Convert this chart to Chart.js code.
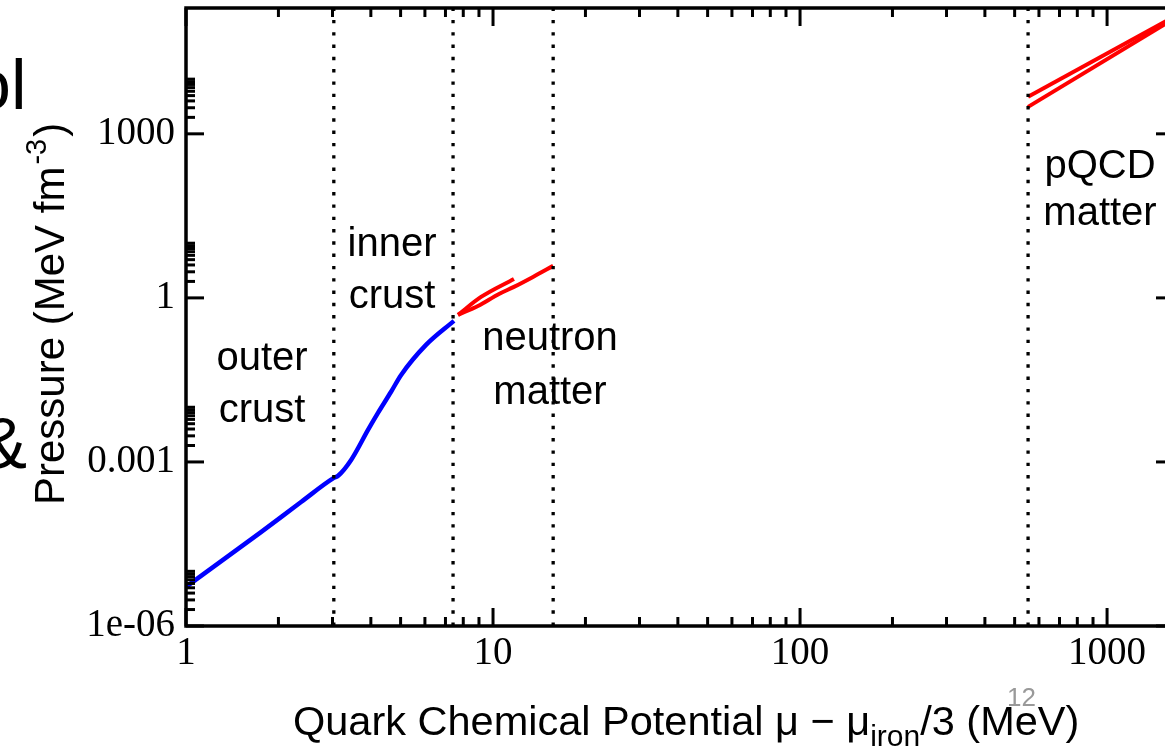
<!DOCTYPE html>
<html>
<head>
<meta charset="utf-8">
<script src="https://cdn.jsdelivr.net/npm/chart.js@4.4.1/dist/chart.umd.min.js"></script>
<style>
  html, body { margin: 0; padding: 0; background: #fff; overflow: hidden; width: 1165px; height: 752px; }
  #wrap { position: absolute; left: 0; top: 0; width: 1180px; height: 752px; }
</style>
</head>
<body>
<div id="wrap"><canvas id="c" width="1180" height="752"></canvas></div>
<script>
// ---- data ----
const crustX = [1, 1.755, 2.37, 3.03, 3.13, 3.45, 3.92, 4.22, 4.65, 5.02, 6.05, 7.46];
const crustY = [5.2e-6, 5.2e-5, 1.85e-4, 5.1e-4, 5.6e-4, 1.09e-3, 3.9e-3, 7.9e-3, 1.9e-2, 3.9e-2, 0.138, 0.38];

const neutronAX = [7.69, 9.14, 11.7];
const neutronAY = [0.49, 1.04, 2.22];
const neutronBX = [7.69, 8.93, 10.46, 11.7, 13.5, 15.7];
const neutronBY = [0.49, 0.71, 1.18, 1.59, 2.42, 3.85];

const pqcdAX = [553, 1652];
const pqcdAY = [4742, 1.38e5];
const pqcdBX = [553, 1652];
const pqcdBY = [3112, 1.27e5];

const boundaries = [3.03, 7.41, 15.7, 553];

const xTickValues = [1, 10, 100, 1000];
const xTickLabels = ['1', '10', '100', '1000'];
const yTickValues = [1e-6, 1e-3, 1, 1000];
const yTickLabels = ['1e-06', '0.001', '1', '1000'];

const regionLabels = [
  ['outer', 'crust'],
  ['inner', 'crust'],
  ['neutron', 'matter'],
  ['pQCD', 'matter']
];
const xTitleParts = ['Quark Chemical Potential \u03bc \u2212 \u03bc', 'iron', '/3 (MeV)'];
const yTitleParts = ['Pressure (MeV fm', '-3', ')'];

// ---- helpers ----
const zip = (xs, ys) => xs.map((v, i) => ({ x: v, y: ys[i] }));
const X_MIN = 1, X_MAX = 1652, Y_MIN = 1e-6, Y_MAX = 2e5;

const datasets = [];
boundaries.forEach(b => datasets.push({
  data: [{ x: b, y: Y_MIN }, { x: b, y: Y_MAX }],
  borderColor: '#000', borderWidth: 3.3, borderDash: [3.4, 8.9], pointRadius: 0, fill: false
}));
datasets.push({ data: zip(crustX, crustY), borderColor: '#0000ff', borderWidth: 4.5, pointRadius: 0, cubicInterpolationMode: 'monotone', fill: false });
datasets.push({ data: zip(neutronAX, neutronAY), borderColor: '#ff0000', borderWidth: 4, pointRadius: 0, cubicInterpolationMode: 'monotone', fill: false });
datasets.push({ data: zip(neutronBX, neutronBY), borderColor: '#ff0000', borderWidth: 4, pointRadius: 0, cubicInterpolationMode: 'monotone', fill: false });
datasets.push({ data: zip(pqcdAX, pqcdAY), borderColor: '#ff0000', borderWidth: 4, pointRadius: 0, fill: false });
datasets.push({ data: zip(pqcdBX, pqcdBY), borderColor: '#ff0000', borderWidth: 4, pointRadius: 0, fill: false });

const frameTicks = {
  id: 'frameTicks',
  afterDatasetsDraw(chart) {
    const { ctx, chartArea: a, scales: { x, y } } = chart;
    ctx.save();
    ctx.strokeStyle = '#000';
    ctx.lineWidth = 3;
    ctx.lineCap = 'butt';
    const seg = (x1, y1, x2, y2) => { ctx.beginPath(); ctx.moveTo(x1, y1); ctx.lineTo(x2, y2); ctx.stroke(); };
    const MAJ = 18, MIN = 9;
    xTickValues.forEach(v => {
      for (let k = 1; k <= 9; k++) {
        const val = v * k;
        if (val < X_MIN || val > X_MAX) continue;
        const px = x.getPixelForValue(val);
        const len = k === 1 ? MAJ : MIN;
        seg(px, a.bottom, px, a.bottom - len);
        seg(px, a.top, px, a.top + len);
      }
    });
    yTickValues.forEach(v => {
      for (let k = 1; k <= 10; k++) {
        const val = v * k;
        if (val < Y_MIN || val > Y_MAX) continue;
        const py = y.getPixelForValue(val);
        const len = k === 1 ? MAJ : MIN;
        seg(a.left, py, a.left + len, py);
        seg(a.right, py, a.right - len, py);
      }
    });
    ctx.lineWidth = 3.5;
    ctx.strokeRect(a.left, a.top, a.right - a.left, a.bottom - a.top);
    ctx.restore();
  },
  afterDraw(chart) {
    const { ctx } = chart;
    ctx.save();
    ctx.fillStyle = '#000';
    ctx.textBaseline = 'alphabetic';
    ctx.font = '40px "Liberation Sans", Arial, sans-serif';
    ctx.textAlign = 'center';
    const pos = [[262, 370, 422], [392, 256, 308], [550, 350, 404], [1100, 178, 225]];
    regionLabels.forEach((lines, i) => {
      ctx.fillText(lines[0], pos[i][0], pos[i][1]);
      ctx.fillText(lines[1], pos[i][0], pos[i][2]);
    });
    // x title
    ctx.textAlign = 'left';
    let cx = 293; const by = 735;
    ctx.font = '41.5px "Liberation Sans", Arial, sans-serif';
    ctx.fillText(xTitleParts[0], cx, by); cx += ctx.measureText(xTitleParts[0]).width;
    ctx.font = '30px "Liberation Sans", Arial, sans-serif';
    ctx.fillText(xTitleParts[1], cx, by + 11); cx += ctx.measureText(xTitleParts[1]).width;
    ctx.font = '41.5px "Liberation Sans", Arial, sans-serif';
    ctx.fillText(xTitleParts[2], cx, by);
    // y title (rotated)
    ctx.save();
    ctx.translate(64, 505);
    ctx.rotate(-Math.PI / 2);
    let cy = 0;
    ctx.font = '42px "Liberation Sans", Arial, sans-serif';
    ctx.fillText(yTitleParts[0], cy, 0); cy += ctx.measureText(yTitleParts[0]).width;
    ctx.font = '29px "Liberation Sans", Arial, sans-serif';
    ctx.fillText(yTitleParts[1], cy + 2, -18); cy += ctx.measureText(yTitleParts[1]).width + 4;
    ctx.font = '42px "Liberation Sans", Arial, sans-serif';
    ctx.fillText(yTitleParts[2], cy, 0);
    ctx.restore();
    // slide fragments around the figure
    ctx.font = '70px "Liberation Sans", Arial, sans-serif';
    ctx.fillText('ol', -28, 109);
    ctx.font = '72px "Liberation Sans", Arial, sans-serif';
    ctx.fillText('&', -21, 468);
    ctx.fillStyle = '#999';
    ctx.font = '26px "Liberation Sans", Arial, sans-serif';
    ctx.fillText('12', 1007, 706);
    ctx.restore();
  }
};

new Chart(document.getElementById('c'), {
  type: 'line',
  data: { datasets },
  options: {
    responsive: false,
    animation: false,
    layout: { padding: { top: 8, right: 6, left: 0, bottom: 0 } },
    plugins: { legend: { display: false }, tooltip: { enabled: false }, title: { display: false } },
    scales: {
      x: {
        type: 'logarithmic', min: X_MIN, max: X_MAX,
        grid: { display: false, drawTicks: false }, border: { display: false },
        afterBuildTicks: s => { s.ticks = xTickValues.map(v => ({ value: v })); },
        afterFit: s => { s.height = 126; s.paddingLeft = 0; s.paddingRight = 0; },
        ticks: {
          autoSkip: false, maxRotation: 0, padding: 4, color: '#000',
          font: { family: '"Liberation Serif", "Times New Roman", serif', size: 39 },
          callback: v => { const i = xTickValues.indexOf(v); return i >= 0 ? xTickLabels[i] : ''; }
        }
      },
      y: {
        type: 'logarithmic', min: Y_MIN, max: Y_MAX,
        grid: { display: false, drawTicks: false }, border: { display: false },
        afterBuildTicks: s => { s.ticks = yTickValues.map(v => ({ value: v })); },
        afterFit: s => { s.width = 186; s.paddingTop = 0; s.paddingBottom = 0; },
        ticks: {
          autoSkip: false, padding: 11, color: '#000',
          font: { family: '"Liberation Serif", "Times New Roman", serif', size: 39 },
          callback: v => { const i = yTickValues.indexOf(v); return i >= 0 ? yTickLabels[i] : ''; }
        }
      }
    }
  },
  plugins: [frameTicks]
});
</script>
</body>
</html>
